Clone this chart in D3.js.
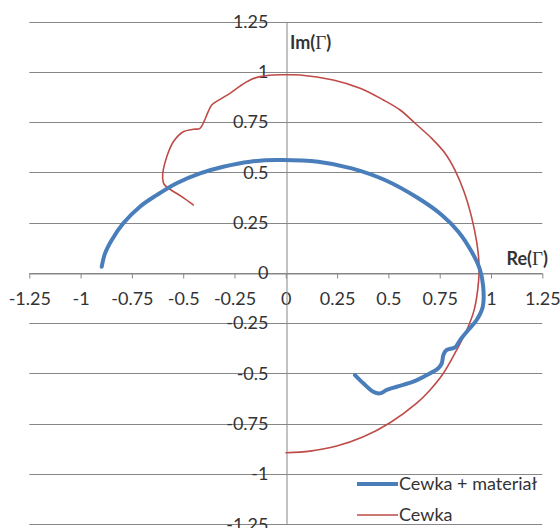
<!DOCTYPE html>
<html>
<head>
<meta charset="utf-8">
<script src="https://cdn.jsdelivr.net/npm/d3@7"></script>
<style>
  html, body { margin: 0; padding: 0; background: #fff; }
  svg { display: block; }
  text { font-family: Lato, "Noto Sans", sans-serif; }
</style>
</head>
<body>
<div id="chart"></div>
<script>
// Tick values shared by both axes
const tickValues = [-1.25, -1, -0.75, -0.5, -0.25, 0, 0.25, 0.5, 0.75, 1, 1.25];

// Reflection coefficient of the coil alone: [Re, Im]
const cewka = [
  [-0.451, 0.338], [-0.507, 0.379], [-0.564, 0.416], [-0.594, 0.442], [-0.600, 0.470],
  [-0.597, 0.512], [-0.580, 0.578], [-0.548, 0.652], [-0.500, 0.702], [-0.451, 0.714],
  [-0.418, 0.719], [-0.399, 0.752], [-0.378, 0.802], [-0.361, 0.835], [-0.312, 0.868],
  [-0.272, 0.893], [-0.223, 0.929], [-0.174, 0.959], [-0.126, 0.976], [-0.061, 0.984],
  [0.000, 0.985], [0.069, 0.984], [0.231, 0.959], [0.362, 0.918], [0.475, 0.860],
  [0.557, 0.810], [0.630, 0.744], [0.711, 0.669], [0.776, 0.595], [0.825, 0.510],
  [0.870, 0.400], [0.906, 0.275], [0.930, 0.155], [0.941, 0.056], [0.940, -0.035],
  [0.918, -0.184], [0.882, -0.284], [0.833, -0.383], [0.768, -0.499], [0.703, -0.582],
  [0.638, -0.648], [0.508, -0.745], [0.378, -0.815], [0.248, -0.861], [0.118, -0.886],
  [0.001, -0.894]
];

// Reflection coefficient of the coil with material: [Re, Im]
const cewkaMaterial = [
  [-0.897, 0.031], [-0.881, 0.097], [-0.848, 0.164], [-0.792, 0.247], [-0.711, 0.329],
  [-0.629, 0.387], [-0.532, 0.446], [-0.418, 0.495], [-0.305, 0.528], [-0.174, 0.553],
  [-0.044, 0.561], [0.158, 0.553], [0.321, 0.520], [0.483, 0.462], [0.646, 0.371],
  [0.760, 0.288], [0.841, 0.205], [0.906, 0.105], [0.945, 0.020], [0.962, -0.069],
  [0.960, -0.168], [0.930, -0.234], [0.889, -0.284], [0.849, -0.334], [0.825, -0.370],
  [0.784, -0.383], [0.768, -0.408], [0.760, -0.450], [0.743, -0.474], [0.687, -0.508],
  [0.621, -0.541], [0.540, -0.566], [0.492, -0.582], [0.459, -0.599], [0.426, -0.591],
  [0.378, -0.549], [0.337, -0.508]
];

const seriesNames = ["Cewka + materiał", "Cewka"];
const seriesColors = ["#4a7ebb", "#be4b48"];
const seriesWidths = [4, 1.6];

const W = 560, H = 528;
const svg = d3.select("#chart").append("svg").attr("width", W).attr("height", H);

const x = d3.scaleLinear().domain([-1.25, 1.25]).range([29.3, 542.3]);
const y = d3.scaleLinear().domain([-1.25, 1.25]).range([524.3, 21.5]);

const gridColor = "#878787";
const textColor = "#333";

// Horizontal gridlines
svg.append("g").selectAll("line").data(tickValues).join("line")
  .attr("x1", x(-1.25)).attr("x2", x(1.25))
  .attr("y1", d => Math.round(y(d)) + 0.5).attr("y2", d => Math.round(y(d)) + 0.5)
  .attr("stroke", gridColor).attr("stroke-width", 1);

// Plain hyphen-minus labels
const fmt = d => String(d);

// Horizontal axis through Im = 0
const xAxis = svg.append("g")
  .attr("transform", `translate(0,${Math.round(y(0)) + 0.5})`)
  .call(d3.axisBottom(x).tickValues(tickValues).tickFormat(fmt).tickSize(5).tickSizeOuter(0).tickPadding(14));
xAxis.select(".domain").attr("stroke", gridColor);
xAxis.selectAll(".tick line").attr("stroke", gridColor);
xAxis.selectAll(".tick text").attr("fill", textColor).style("font-size", "18px")
  .style("font-family", "Lato, 'Noto Sans', sans-serif");

// Vertical axis through Re = 0
const yAxis = svg.append("g")
  .attr("transform", `translate(${Math.round(x(0)) + 0.5},0)`)
  .call(d3.axisLeft(y).tickValues(tickValues).tickFormat(fmt).tickSize(0).tickSizeOuter(0).tickPadding(18));
yAxis.select(".domain").attr("stroke", gridColor);
yAxis.selectAll(".tick text").attr("fill", textColor).style("font-size", "18px")
  .style("font-family", "Lato, 'Noto Sans', sans-serif");

// Curves
const line = d3.line().x(d => x(d[0])).y(d => y(d[1])).curve(d3.curveCatmullRom.alpha(0.5));
const series = [cewkaMaterial, cewka];
[1, 0].forEach(i => {
  svg.append("path").datum(series[i])
    .attr("d", line)
    .attr("fill", "none")
    .attr("stroke", seriesColors[i])
    .attr("stroke-width", seriesWidths[i])
    .attr("stroke-linejoin", "round")
    .attr("stroke-linecap", "round");
});

// Axis titles with a serif Gamma
function axisTitle(px, py, prefix, anchor) {
  const t = svg.append("text").attr("x", px).attr("y", py)
    .attr("text-anchor", anchor)
    .attr("fill", textColor).style("font-size", "18px").style("font-weight", "bold");
  t.append("tspan").text(prefix + "(");
  t.append("tspan").style("font-family", "'Liberation Serif', 'DejaVu Serif', serif")
    .style("font-weight", "normal").style("font-size", "19px").text("Γ");
  t.append("tspan").text(")");
}
axisTitle(290, 49, "Im", "start");
axisTitle(548, 265, "Re", "end");

// Legend
const legendY = [484, 515];
seriesNames.forEach((name, i) => {
  svg.append("line")
    .attr("x1", 357).attr("x2", 398)
    .attr("y1", legendY[i]).attr("y2", legendY[i])
    .attr("stroke", seriesColors[i]).attr("stroke-width", seriesWidths[i]);
  svg.append("text")
    .attr("x", 399).attr("y", legendY[i] + 6)
    .attr("fill", textColor).style("font-size", "18px")
    .text(name);
});
</script>
</body>
</html>
